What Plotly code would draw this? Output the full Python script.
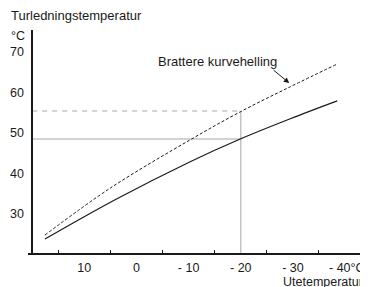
import plotly.graph_objects as go

# Outdoor temperature (°C) and flow temperature (°C)
outdoor_temp = [17.55, 4.1, -10.3, -19.9, -29.5, -38.5]
normal_curve = [23.8, 33.5, 42.9, 48.5, 53.5, 57.9]
steeper_outdoor = [17.55, 5.0, -10.3, -19.9, -29.5, -38.5]
steeper_curve = [24.8, 36.4, 48.3, 55.2, 61.4, 67.0]

x_tick_vals = [10, 0, -10, -20, -30, -40]
x_tick_text = ["10", "0", "- 10", "- 20", "- 30", "\u00a0- 40°C"]
x_minor_ticks = [15, 5, -5, -15, -25, -35]
y_tick_vals = [30, 40, 50, 60, 70]
y_tick_text = ["30", "40", "50", "60", "70"]

guide_outdoor = -20
guide_normal = 48.5
guide_steeper = 55.4
y_axis_at = 20
x_range = [20.8, -44.4]
y_range = [20.37, 75.4]

FONT = "Liberation Sans, Arial, sans-serif"
GRAY = "#c4c4c4"
INK = "#1a1a1a"

fig = go.Figure()

# guide lines
fig.add_trace(go.Scatter(x=[y_axis_at, guide_outdoor], y=[guide_steeper, guide_steeper],
                         mode="lines", line=dict(color=GRAY, width=1.5, dash="5px,5px"),
                         hoverinfo="skip", showlegend=False))
fig.add_trace(go.Scatter(x=[y_axis_at, guide_outdoor, guide_outdoor],
                         y=[guide_normal, guide_normal, y_range[0]],
                         mode="lines", line=dict(color=GRAY, width=1.5),
                         hoverinfo="skip", showlegend=False))
fig.add_trace(go.Scatter(x=[guide_outdoor, guide_outdoor], y=[guide_normal, guide_steeper],
                         mode="lines", line=dict(color=GRAY, width=1.5),
                         hoverinfo="skip", showlegend=False))

# curves
fig.add_trace(go.Scatter(x=steeper_outdoor, y=steeper_curve, mode="lines",
                         line=dict(color=INK, width=1, dash="3px,2px", shape="spline"),
                         showlegend=False))
fig.add_trace(go.Scatter(x=outdoor_temp, y=normal_curve, mode="lines",
                         line=dict(color=INK, width=1.2, shape="spline"),
                         showlegend=False))

# the page body has an 8px margin, so the figure is 8px smaller and the
# left/top margins 8px narrower to keep the plot where the reference has it
fig.update_layout(
    width=360, height=279, autosize=False,
    margin=dict(l=20, r=0, t=22, b=34),
    paper_bgcolor="white", plot_bgcolor="white",
    font=dict(family=FONT, size=12.5, color=INK),
    xaxis=dict(range=x_range, showgrid=False, zeroline=False,
               showline=True, linecolor=INK, linewidth=1.5,
               tickmode="array", tickvals=x_tick_vals, ticktext=x_tick_text,
               ticks="", ticklabelstandoff=2, ticklabeloverflow="allow",
               minor=dict(tickmode="array", tickvals=x_minor_ticks, ticks="inside",
                          ticklen=3, tickcolor=INK, tickwidth=1.2)),
    yaxis=dict(range=y_range, showgrid=False, zeroline=False,
               showline=True, linecolor=INK, linewidth=1.5,
               anchor="free", position=(x_range[0] - y_axis_at) / (x_range[0] - x_range[1]),
               tickmode="array", tickvals=y_tick_vals, ticktext=y_tick_text,
               ticks="", ticklabelstandoff=5),
    annotations=[
        dict(text="Turledningstemperatur", xref="paper", yref="paper", x=-0.055, y=1.066,
             xanchor="left", yanchor="middle", showarrow=False, font=dict(size=13)),
        dict(text="°C", xref="paper", yref="paper", x=-0.057, y=0.975,
             xanchor="left", yanchor="middle", showarrow=False, font=dict(size=12.5)),
        dict(text="Utetemperatur", xref="paper", yref="paper", x=0.868, y=-0.131,
             xanchor="center", yanchor="middle", showarrow=False, font=dict(size=12.5)),
        dict(text="Brattere kurvehelling", xref="x", yref="y", x=-15.6, y=67.6,
             xanchor="center", yanchor="middle", showarrow=False, font=dict(size=13)),
        dict(text="", xref="x", yref="y", x=-29.3, y=62.3, axref="x", ayref="y",
             ax=-26.0, ay=65.8, showarrow=True, arrowhead=2, arrowsize=1.1,
             arrowwidth=1, arrowcolor=INK),
    ],
)

fig.write_html("out.html")
